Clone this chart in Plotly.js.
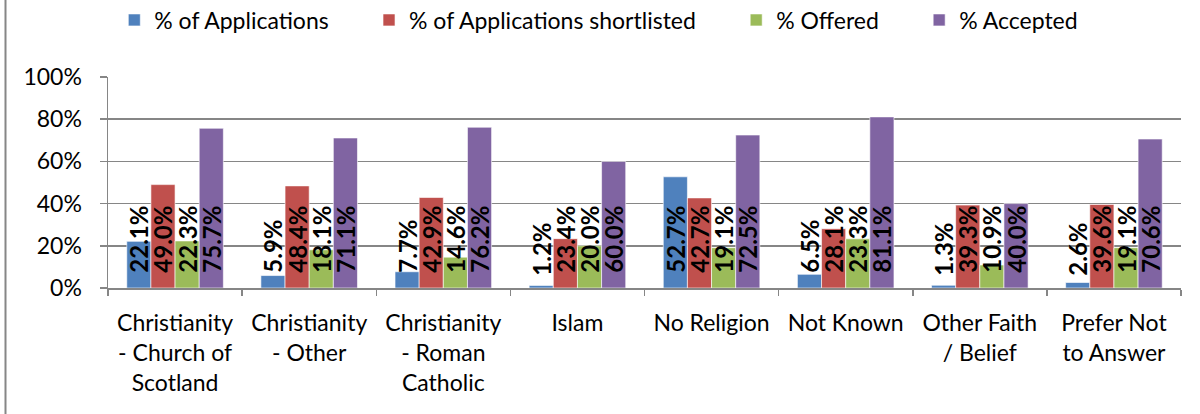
<!DOCTYPE html>
<html><head><meta charset="utf-8">
<script src="https://cdn.plot.ly/plotly-3.0.1.min.js"></script>
<style>html,body{margin:0;padding:0;background:#fff}#c{width:1200px;height:414px}</style>
</head><body><div id="c"></div>
<script>
const categories = ["Christianity<br>- Church of<br>Scotland","Christianity<br>- Other","Christianity<br>- Roman<br>Catholic","Islam","No Religion","Not Known","Other Faith<br>/ Belief","Prefer Not<br>to Answer"];
const seriesNames = ["% of Applications","% of Applications shortlisted","% Offered","% Accepted"];
const applications = [0.221,0.059,0.077,0.012,0.527,0.065,0.013,0.026];
const shortlisted = [0.490,0.484,0.429,0.234,0.427,0.281,0.393,0.396];
const offered = [0.223,0.181,0.146,0.200,0.191,0.233,0.109,0.191];
const accepted = [0.757,0.711,0.762,0.600,0.725,0.811,0.400,0.706];
const yTickVals = [0,0.2,0.4,0.6,0.8,1.0];
const yTickText = ["0%","20%","40%","60%","80%","100%"];
const colors = ["#4F81BD","#C0504D","#9BBB59","#8064A2"];
const FONT = "Lato, 'Open Sans', sans-serif";
const PAD = "\u00a0\u00a0\u00a0\u00a0\u00a0\u00a0";
const all = [applications, shortlisted, offered, accepted];
const traces = all.map((vals,i)=>({
  type:'bar', x:categories, y:vals, name:seriesNames[i] + (i<3?PAD:""),
  marker:{color:colors[i], line:{color:'rgba(255,255,255,0.6)', width:1}},
  texttemplate:'\u00a0\u00a0<b>%{y:.1%}</b>', textposition:'inside', insidetextanchor:'start',
  textangle:-90, constraintext:'none', cliponaxis:false,
  textfont:{family:FONT, size:24, color:'#000'},
  hoverinfo:'skip'
}));
const L=108, R=19, T=77, B=126;
const pw = 1200-L-R;
const layout = {
  width:1200, height:414,
  margin:{l:L, r:R, t:T, b:B, pad:0, autoexpand:false},
  paper_bgcolor:'#fff', plot_bgcolor:'#fff',
  barmode:'group', bargap:0.28, bargroupgap:0,
  font:{family:FONT, size:22, color:'#000'},
  showlegend:true,
  legend:{orientation:'h', xref:'container', yref:'container', x:0.499, xanchor:'center', y:1-20/414, yanchor:'middle',
          font:{family:FONT, size:23, color:'#000'}, itemwidth:30, tracegroupgap:0},
  xaxis:{type:'category', showline:true, linecolor:'#868686', linewidth:1.5,
         ticks:'outside', tickson:'boundaries', ticklen:6, tickcolor:'#868686', tickwidth:1.5,
         ticklabelstandoff:14,
         tickfont:{family:FONT, size:23, color:'#000'}, showgrid:false, fixedrange:true, automargin:false},
  yaxis:{range:[0,1], tickvals:yTickVals, ticktext:yTickText, showline:true, linecolor:'#868686', linewidth:1.5,
         ticks:'outside', ticklen:7, tickcolor:'#868686', tickwidth:1.5, ticklabelstandoff:13,
         showgrid:true, gridcolor:'#868686', gridwidth:1.5, zeroline:false,
         tickfont:{family:FONT, size:23, color:'#000'}, automargin:false, fixedrange:true},
  shapes:[{type:'line', xref:'paper', yref:'paper', x0:(5.5-L)/pw, x1:(5.5-L)/pw, y0:-B/(414-T-B), y1:(414-B)/(414-T-B),
           line:{color:'#868686', width:2}}]
};
Plotly.newPlot('c', traces, layout, {staticPlot:true, displayModeBar:false});
</script></body></html>
